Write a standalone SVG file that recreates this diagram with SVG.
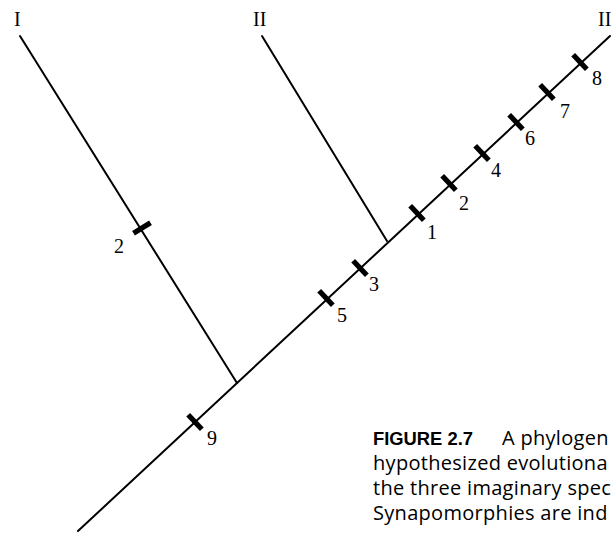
<svg xmlns="http://www.w3.org/2000/svg" width="613" height="533" viewBox="0 0 613 533">
<defs>
<style>
.ln{stroke:#000;stroke-width:2;fill:none;stroke-linecap:round}
.tk{fill:#000}
.num{font-family:"Liberation Serif",serif;font-size:20px;fill:#000}
.cap{font-family:"Open Sans","Noto Sans",sans-serif;font-size:20px;letter-spacing:0.3px;fill:#000}
.capb{font-family:"Liberation Sans",sans-serif;font-weight:bold;font-size:19px;fill:#000}
</style>
<rect id="tick" x="-10" y="-2.6" width="20" height="5.2"/>
</defs>
<rect width="613" height="533" fill="#fff"/>
<g id="connectors">
<line class="ln" x1="78" y1="531" x2="610" y2="36"/>
<line class="ln" x1="20" y1="36" x2="237" y2="383"/>
<line class="ln" x1="262" y1="36" x2="387" y2="241"/>
</g>
<g id="taxon-I"><text class="num" x="14" y="26">I</text></g>
<g id="taxon-II"><text class="num" x="253" y="26">II</text></g>
<g id="taxon-III"><text class="num" x="598" y="26">II</text></g>
<g id="char-2a">
<use href="#tick" class="tk" transform="translate(142,228) rotate(-32)"/>
<text class="num" x="114" y="253">2</text>
</g>
<g id="char-9"><use href="#tick" class="tk" transform="translate(195,422) rotate(47)"/><text class="num" x="207" y="445">9</text></g>
<g id="char-5"><use href="#tick" class="tk" transform="translate(326,298) rotate(47)"/><text class="num" x="337" y="322">5</text></g>
<g id="char-3"><use href="#tick" class="tk" transform="translate(360,268) rotate(47)"/><text class="num" x="369" y="291">3</text></g>
<g id="char-1"><use href="#tick" class="tk" transform="translate(417,213) rotate(47)"/><text class="num" x="427" y="239">1</text></g>
<g id="char-2"><use href="#tick" class="tk" transform="translate(449,183) rotate(47)"/><text class="num" x="459" y="210">2</text></g>
<g id="char-4"><use href="#tick" class="tk" transform="translate(482,153) rotate(47)"/><text class="num" x="491" y="177">4</text></g>
<g id="char-6"><use href="#tick" class="tk" transform="translate(516,122) rotate(47)"/><text class="num" x="525" y="145">6</text></g>
<g id="char-7"><use href="#tick" class="tk" transform="translate(547,92) rotate(47)"/><text class="num" x="560" y="118">7</text></g>
<g id="char-8"><use href="#tick" class="tk" transform="translate(580,62) rotate(47)"/><text class="num" x="592" y="85">8</text></g>
<g id="caption">
<text class="capb" x="373" y="445" textLength="100" lengthAdjust="spacingAndGlyphs">FIGURE 2.7</text>
<text class="cap" x="502" y="445">A phylogen</text>
<text class="cap" x="373" y="470">hypothesized evolutiona</text>
<text class="cap" x="373" y="495">the three imaginary spec</text>
<text class="cap" x="373" y="520">Synapomorphies are ind</text>
</g>
</svg>
